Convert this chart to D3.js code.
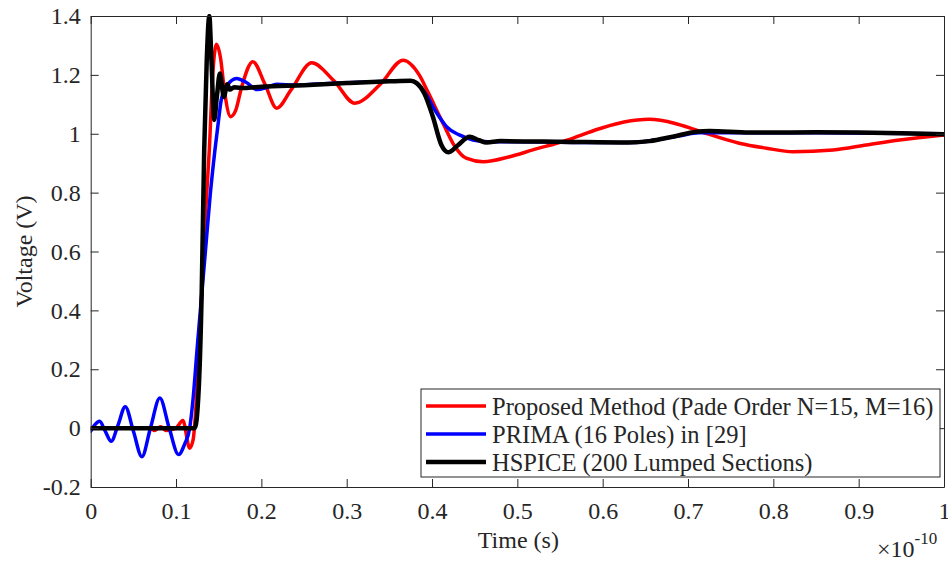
<!DOCTYPE html>
<html>
<head>
<meta charset="utf-8">
<script src="https://cdn.jsdelivr.net/npm/d3@7/dist/d3.min.js"></script>
<style>
  html, body { margin: 0; padding: 0; background: #fff; }
  svg { display: block; }
  text { font-family: "Liberation Serif", "Times New Roman", serif; fill: #262626; }
</style>
</head>
<body>
<svg id="chart" width="948" height="561"></svg>
<script>
// ---- Data (time in units of 1e-10 s, voltage in V) ----
const seriesNames = ["Proposed Method (Pade Order N=15, M=16)", "PRIMA (16 Poles) in [29]", "HSPICE (200 Lumped Sections)"];
const seriesColors = ["#ff0000", "#0000ff", "#000000"];

const proposedT = [0, 0.03, 0.06, 0.07, 0.075, 0.082, 0.088, 0.095, 0.1, 0.108, 0.116, 0.12, 0.125, 0.13, 0.135, 0.139, 0.143, 0.1475, 0.152, 0.157, 0.164, 0.17, 0.177, 0.19, 0.204, 0.218, 0.235, 0.259, 0.285, 0.3095, 0.34, 0.366, 0.385, 0.395, 0.413, 0.427, 0.44, 0.46, 0.491, 0.518, 0.557, 0.596, 0.625, 0.655, 0.685, 0.71, 0.76, 0.792, 0.823, 0.87, 0.909, 0.948, 1.0];
const proposedV = [0, 0, 0, 0, -0.008, 0.005, -0.008, -0.005, 0.0, 0.026, -0.068, -0.04, 0.15, 0.45, 0.75, 0.945, 1.2, 1.304, 1.26, 1.14, 1.058, 1.08, 1.16, 1.245, 1.17, 1.087, 1.15, 1.241, 1.18, 1.104, 1.17, 1.25, 1.2, 1.143, 1.035, 0.956, 0.917, 0.905, 0.922, 0.945, 0.977, 1.017, 1.04, 1.049, 1.035, 1.012, 0.968, 0.951, 0.939, 0.945, 0.962, 0.979, 0.996];

const primaT = [0, 0.005, 0.0105, 0.017, 0.024, 0.032, 0.0405, 0.05, 0.06, 0.07, 0.081, 0.092, 0.103, 0.11, 0.116, 0.12, 0.125, 0.13, 0.135, 0.14, 0.1456, 0.15, 0.153, 0.16, 0.171, 0.182, 0.195, 0.207, 0.218, 0.24, 0.26, 0.3, 0.35, 0.375, 0.386, 0.395, 0.401, 0.409, 0.417, 0.432, 0.448, 0.465, 0.5, 0.6, 0.635, 0.663, 0.69, 0.713, 0.76, 0.85, 1.0];
const primaV = [-0.01, 0.012, 0.023, -0.01, -0.045, 0.01, 0.073, -0.01, -0.097, 0.0, 0.102, 0.0, -0.09, -0.055, 0.0, 0.1, 0.28, 0.45, 0.62, 0.79, 0.945, 1.05, 1.115, 1.165, 1.188, 1.175, 1.15, 1.158, 1.168, 1.165, 1.168, 1.173, 1.178, 1.18, 1.16, 1.125, 1.092, 1.055, 1.024, 0.996, 0.979, 0.973, 0.973, 0.97, 0.97, 0.979, 0.993, 1.003, 1.003, 1.003, 1.0];

const hspiceT = [0, 0.05, 0.1, 0.122, 0.126, 0.13, 0.133, 0.136, 0.139, 0.1415, 0.1447, 0.148, 0.1514, 0.156, 0.16, 0.163, 0.168, 0.18, 0.2, 0.25, 0.3, 0.35, 0.375, 0.382, 0.391, 0.401, 0.411, 0.419, 0.43, 0.444, 0.455, 0.464, 0.48, 0.55, 0.63, 0.655, 0.682, 0.71, 0.725, 0.772, 0.85, 0.95, 1.0];
const hspiceV = [0, 0, 0, 0.0, 0.1, 0.45, 0.945, 1.25, 1.40, 1.25, 1.047, 1.13, 1.205, 1.125, 1.168, 1.15, 1.158, 1.155, 1.16, 1.165, 1.172, 1.178, 1.18, 1.172, 1.137, 1.058, 0.962, 0.937, 0.96, 0.99, 0.978, 0.97, 0.975, 0.973, 0.97, 0.975, 0.99, 1.007, 1.009, 1.004, 1.005, 1.002, 0.998];

const xTicks = [0, 0.1, 0.2, 0.3, 0.4, 0.5, 0.6, 0.7, 0.8, 0.9, 1];
const yTicks = [-0.2, 0, 0.2, 0.4, 0.6, 0.8, 1, 1.2, 1.4];

// ---- Layout ----
const svg = d3.select("#chart");
const L = 90.7, T = 16, R = 944, B = 487;
const axisColor = "#262626";
const fontSize = 24;

const x = d3.scaleLinear().domain([0, 1]).range([L, R]);
const y = d3.scaleLinear().domain([-0.2, 1.4]).range([B, T]);

svg.append("defs").append("clipPath").attr("id", "plotClip")
  .append("rect").attr("x", L).attr("y", T - 2).attr("width", R - L).attr("height", B - T + 2);

const series = [
  { t: proposedT, v: proposedV, width: 3.5 },
  { t: primaT, v: primaV, width: 3.5 },
  { t: hspiceT, v: hspiceV, width: 4.5 }
];

const line = d3.line().x(d => x(d[0])).y(d => y(d[1])).curve(d3.curveMonotoneX);

const plotG = svg.append("g").attr("clip-path", "url(#plotClip)");
series.forEach((s, i) => {
  const pts = s.t.map((t, k) => [t, s.v[k]]);
  plotG.append("path").datum(pts)
    .attr("d", line)
    .attr("fill", "none")
    .attr("stroke", seriesColors[i])
    .attr("stroke-width", s.width)
    .attr("stroke-linejoin", "round")
    .attr("stroke-linecap", "round");
});

// ---- Axes (box with inward ticks on all sides) ----
const fmt = d => (Math.round(d * 10) / 10).toString();
const tickLen = 8;

const xBottom = svg.append("g").attr("transform", `translate(0,${B})`)
  .call(d3.axisBottom(x).tickValues(xTicks).tickSizeInner(-tickLen).tickSizeOuter(0).tickPadding(15).tickFormat(fmt));
const xTop = svg.append("g").attr("transform", `translate(0,${T})`)
  .call(d3.axisTop(x).tickValues(xTicks).tickSizeInner(-tickLen).tickSizeOuter(0).tickFormat(""));
const yLeft = svg.append("g").attr("transform", `translate(${L},0)`)
  .call(d3.axisLeft(y).tickValues(yTicks).tickSizeInner(-tickLen).tickSizeOuter(0).tickPadding(10).tickFormat(fmt));
const yRight = svg.append("g").attr("transform", `translate(${R},0)`)
  .call(d3.axisRight(y).tickValues(yTicks).tickSizeInner(-tickLen).tickSizeOuter(0).tickFormat(""));

[xBottom, xTop, yLeft, yRight].forEach(g => {
  g.select(".domain").attr("stroke", axisColor).attr("stroke-width", 1);
  g.selectAll(".tick line").attr("stroke", axisColor).attr("stroke-width", 1);
  g.selectAll(".tick text").attr("fill", axisColor)
    .style("font-family", "'Liberation Serif', 'Times New Roman', serif")
    .style("font-size", fontSize + "px");
});

// ---- Axis labels ----
svg.append("text")
  .attr("x", (L + R) / 2 + 1).attr("y", 548)
  .attr("text-anchor", "middle")
  .style("font-size", fontSize + "px")
  .text("Time (s)");

svg.append("text")
  .attr("transform", `translate(32,${(T + B) / 2}) rotate(-90)`)
  .attr("text-anchor", "middle")
  .style("font-size", fontSize + "px")
  .text("Voltage (V)");

// exponent label
const expG = svg.append("text").attr("x", 877).attr("y", 557).style("font-size", fontSize + "px");
expG.append("tspan").text("\u00d710");
expG.append("tspan").attr("dy", -13).style("font-size", "17px").text("-10");

// ---- Legend ----
const legX = 421, legY = 389, legW = 519, legH = 88;
const leg = svg.append("g");
leg.append("rect").attr("x", legX).attr("y", legY).attr("width", legW).attr("height", legH)
  .attr("fill", "#fff").attr("stroke", axisColor).attr("stroke-width", 1);
const rowY = [406, 434, 462];
seriesNames.forEach((name, i) => {
  leg.append("line")
    .attr("x1", 426).attr("x2", 486).attr("y1", rowY[i]).attr("y2", rowY[i])
    .attr("stroke", seriesColors[i]).attr("stroke-width", series[i].width);
  leg.append("text")
    .attr("x", 492).attr("y", rowY[i]).attr("dy", "0.35em")
    .style("font-size", "24.5px")
    .text(name);
});
</script>
</body>
</html>
